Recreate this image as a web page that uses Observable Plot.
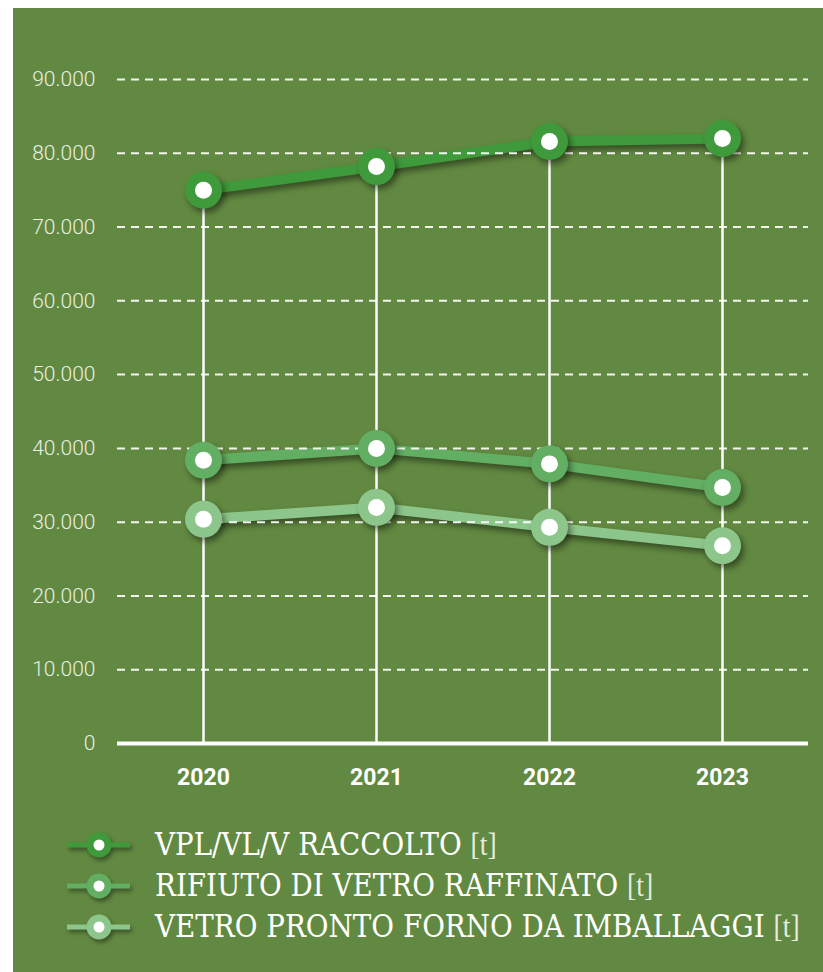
<!DOCTYPE html>
<html><head><meta charset="utf-8">
<script src="https://cdn.jsdelivr.net/npm/d3@7"></script>
<script src="https://cdn.jsdelivr.net/npm/@observablehq/plot@0.6"></script>
<style>
html,body{margin:0;padding:0;background:#fff;}
#card{position:absolute;left:13px;top:8px;width:810px;height:964px;background:#628941;overflow:hidden;}
#chart{position:absolute;left:0;top:0;}
#legend{position:absolute;left:0;top:800px;}
</style></head><body>
<div id="card"><div id="chart"></div><div id="legend"></div></div>
<script>
const years = [2020, 2021, 2022, 2023];
const seriesNames = ["VPL/VL/V RACCOLTO", "RIFIUTO DI VETRO RAFFINATO", "VETRO PRONTO FORNO DA IMBALLAGGI"];
const unitLabel = "[t]";
const raccolto = [75000, 78200, 81600, 82000];
const rifiuto = [38400, 40000, 37900, 34700];
const prontoForno = [30400, 32000, 29300, 26800];
const yTicks = [0, 10000, 20000, 30000, 40000, 50000, 60000, 70000, 80000, 90000];
const seriesColors = ["#3f9a3b", "#62ae62", "#8dc68b"];

const seriesValues = [raccolto, rifiuto, prontoForno];
const rows = [];
seriesValues.forEach((vals, i) => years.forEach((yr, j) => rows.push({year: yr, value: vals[j], series: seriesNames[i]})));
const topRows = years.map((yr, j) => ({year: yr, value: d3.max(seriesValues, s => s[j])}));
const itFormat = d3.formatLocale({decimal: ",", thousands: ".", grouping: [3], currency: ["€", ""]}).format(",");

const chart = Plot.plot({
  width: 810, height: 800,
  marginLeft: 104, marginRight: 15, marginTop: 71, marginBottom: 65,
  style: {background: "transparent", fontFamily: "Roboto, sans-serif", color: "#fff", overflow: "visible"},
  x: {type: "point", domain: years, range: [189, 709], padding: 0, label: null},
  y: {domain: [0, 90000], label: null},
  color: {domain: seriesNames, range: seriesColors},
  marks: [
    Plot.ruleX(topRows, {x: "year", y1: 0, y2: "value", stroke: "#fff", strokeWidth: 2.5, insetBottom: -6}),
    Plot.line(rows, {x: "year", y: "value", z: "series", stroke: "series", strokeWidth: 10}),
    Plot.ruleY(yTicks.filter(t => t > 0), {stroke: "#fff", strokeWidth: 2, strokeDasharray: "8,6", strokeOpacity: 0.92}),
    Plot.ruleY([0], {stroke: "#fff", strokeWidth: 4}),
    Plot.dot(rows, {x: "year", y: "value", fill: "series", r: 18.5}),
    Plot.dot(rows, {x: "year", y: "value", fill: "#fff", r: 8.5}),
    Plot.axisY({ticks: yTicks, tickSize: 0, tickPadding: 22, tickFormat: itFormat, fontSize: 21, fontWeight: 300, fill: "#e9efe3"}),
    Plot.axisX({tickSize: 0, tickPadding: 25, tickFormat: d => String(d), fontSize: 23, fontWeight: "bold", fill: "#fff"})
  ]
});
document.getElementById("chart").appendChild(chart);

// drop shadows on the series line and the coloured dots
const shadow = "drop-shadow(3px 4px 3px rgba(0,0,0,0.45))";
d3.select(chart).selectAll('g[aria-label="line"]').each(function() { this.style.filter = shadow; });
const dotGroups = d3.select(chart).selectAll('g[aria-label="dot"]').nodes();
if (dotGroups.length) dotGroups[0].style.filter = shadow;

// legend
const leg = d3.select("#legend").append("svg").attr("width", 810).attr("height", 164);
const iconY = [37, 78, 119];
const texts = [];
seriesNames.forEach((name, i) => {
  const g = leg.append("g").style("filter", "drop-shadow(2px 3px 2px rgba(0,0,0,0.4))");
  g.append("line").attr("x1", 54).attr("x2", 117).attr("y1", iconY[i]).attr("y2", iconY[i])
    .attr("stroke", seriesColors[i]).attr("stroke-width", 5);
  g.append("circle").attr("cx", 86).attr("cy", iconY[i]).attr("r", 12.5).attr("fill", seriesColors[i]);
  leg.append("circle").attr("cx", 86).attr("cy", iconY[i]).attr("r", 5.5).attr("fill", "#fff");
  const t = leg.append("text").attr("fill", "#fff").attr("font-family", "DejaVu Serif").attr("font-size", 32);
  t.append("tspan").text(name + " ");
  t.append("tspan").attr("font-family", "Liberation Serif").attr("fill-opacity", 0.85).text(unitLabel);
  texts.push({t, base: iconY[i] - 1.5 + 11.6});
});
const w = texts[2].t.node().getComputedTextLength();
const s = 645 / w;
texts.forEach(({t, base}) => t.attr("transform", `translate(142,${base}) scale(${s},1)`));
</script>
</body></html>
